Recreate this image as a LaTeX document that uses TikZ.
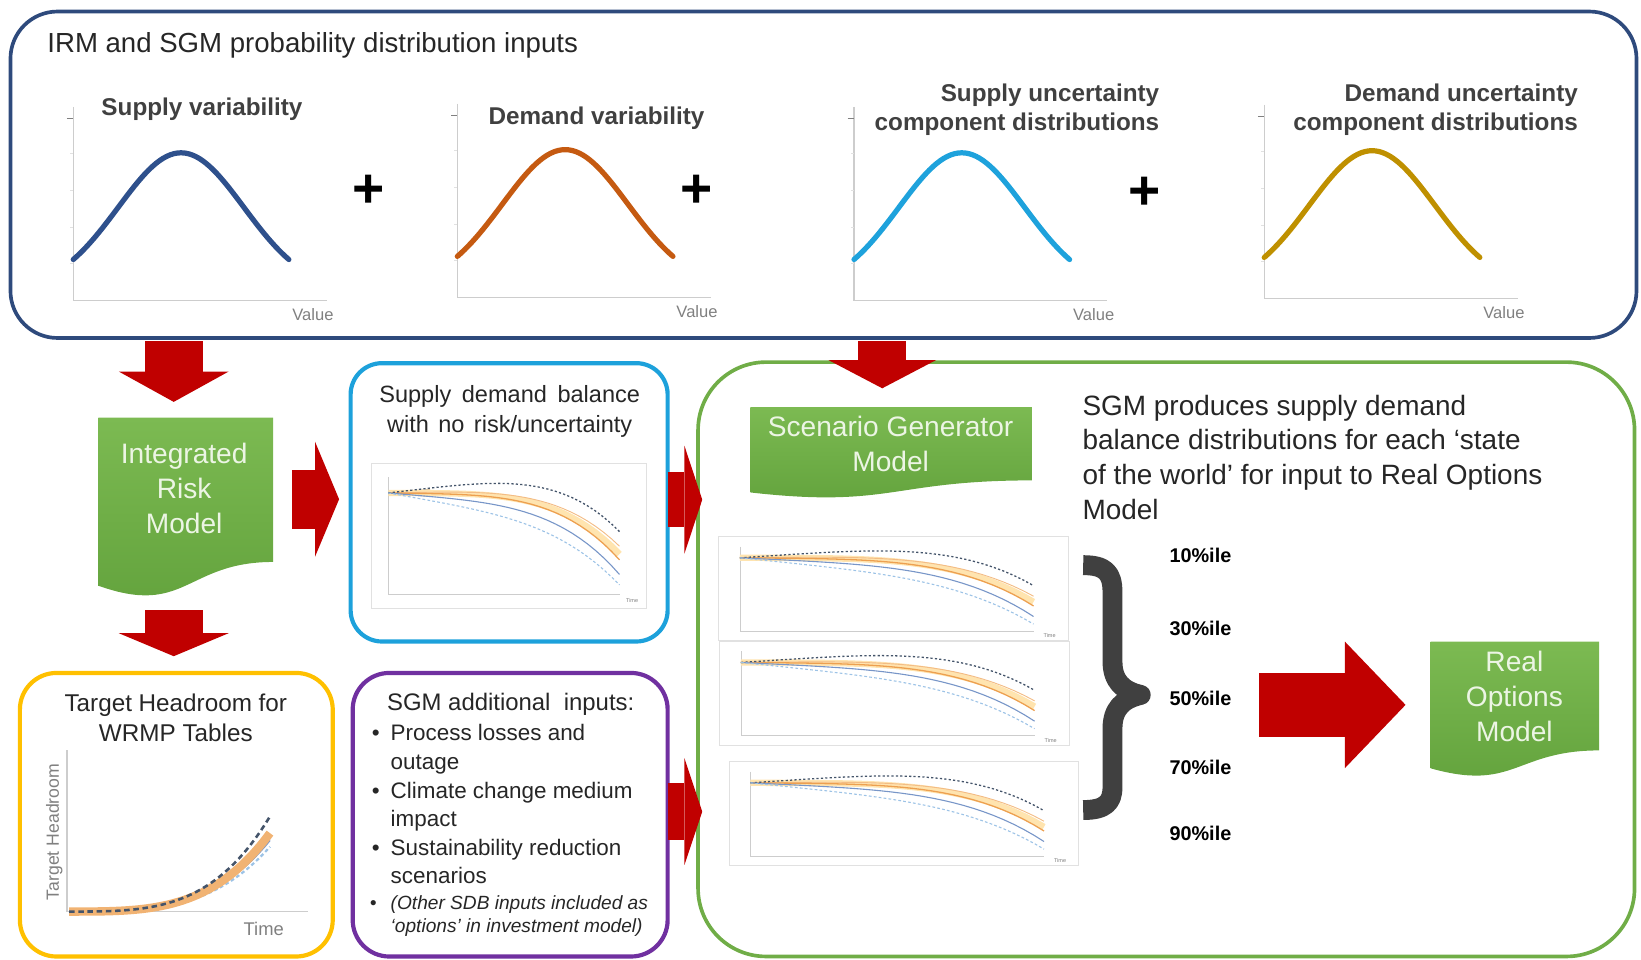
\documentclass[tikz,border=0pt]{standalone}
\usepackage{fontspec}
\setmainfont{Liberation Sans}
\usepackage{xcolor}
\usetikzlibrary{positioning, arrows.meta}

\definecolor{arrred}{RGB}{192,0,0}
\definecolor{navybox}{RGB}{46,74,124}
\definecolor{cyanbox}{RGB}{29,161,219}
\definecolor{goldbox}{RGB}{255,192,0}
\definecolor{purplebox}{RGB}{112,48,160}
\definecolor{greenbox}{RGB}{112,173,71}
\definecolor{greentop}{RGB}{124,186,82}
\definecolor{greenbot}{RGB}{98,162,60}
\definecolor{greentext}{RGB}{236,245,228}
\definecolor{titlegray}{RGB}{64,64,64}
\definecolor{axisgray}{RGB}{205,205,205}
\definecolor{supplyblue}{RGB}{46,80,140}
\definecolor{demandorange}{RGB}{197,90,17}
\definecolor{uncblue}{RGB}{30,162,220}
\definecolor{uncgold}{RGB}{191,144,0}
\definecolor{fannavy}{RGB}{68,84,106}
\definecolor{fanorange}{RGB}{237,160,80}
\definecolor{fanpale}{RGB}{255,228,175}
\definecolor{fanblue}{RGB}{120,150,200}
\definecolor{fanlight}{RGB}{157,195,230}
\definecolor{fancore}{RGB}{200,165,110}
\definecolor{bracegray}{RGB}{64,64,64}

\begin{document}
\begin{tikzpicture}[x=0.02cm, y=-0.02cm, every node/.style={inner sep=0pt, text=black!85},
  panel/.style={draw, line width=0.08cm, rounded corners=#1, anchor=north west, outer sep=0pt},
  redarrow/.style n args={3}{draw=arrred, line width=#1,
    -{Triangle[width=#2 0 0, length=#3 0 0, line width=0pt 0 0]}},
  doctext/.style={font=\fontsize{15.3}{19}\selectfont, text=greentext, align=center},
  charttitle/.style={font=\fontsize{13.2}{15.9}\selectfont\bfseries, text=titlegray},
  boxtitle/.style={font=\fontsize{13}{16.4}\selectfont, align=center},
  smalllbl/.style={font=\fontsize{9.6}{11}\selectfont, text=gray},
  pct/.style={font=\fontsize{10.8}{12}\selectfont\bfseries, text=black},
  plus/.style={font=\fontsize{30}{30}\selectfont\bfseries, text=black},
  fanline/.style={domain=0:1, samples=30},
  bell/.pic={
    \draw[axisgray, line width=0.6pt] (0,-185) -- (0,0) -- (242,0);
    \draw[gray, line width=0.5pt] (-6,-174) -- (0,-174);
    \foreach \yy in {-140,-105,-70,-35} \draw[axisgray!60, line width=0.4pt] (-3,\yy) -- (0,\yy);
    \draw[#1, line width=0.1cm, line cap=round] plot[domain=-103:103, samples=61]
      ({\x+103}, {-8.7-132.3*exp(-(\x)*(\x)/7200)});
    \node[smalllbl, font=\fontsize{9}{10}\selectfont] (-value) at (229,14) {Value};
  },
  fan/.pic={
    \draw[axisgray!60, line width=0.4pt] (-16,-28) rectangle (247,110);
    \draw[axisgray, line width=0.4pt] (0,-15) -- (0,97) -- (221,97);
    \node[font=\fontsize{3}{3}\selectfont, text=gray] (-time) at (233,103) {Time};
    \fill[fancore] (0,-1.5) -- (40,-3.5) -- (40,3.5) -- (0,1.5) -- cycle;
    \draw[fanline, fanpale, line width=0.12cm] plot ({221*\x}, {0.5*\x+58*\x*\x*\x*\x});
    \draw[fanline, fanorange!70, line width=0.5pt] plot ({221*\x}, {-4*\x+55*\x*\x*\x*\x});
    \draw[fanline, fanorange, line width=0.7pt] plot ({221*\x}, {3*\x+61*\x*\x*\x*\x});
    \draw[fanline, fannavy, line width=0.7pt, dash pattern=on 1.2pt off 1.2pt] plot ({221*\x}, {-26*\x+63*\x*\x*\x*\x});
    \draw[fanline, fanblue, line width=0.6pt] plot ({221*\x}, {18.6*\x+59.4*\x*\x*\x*\x});
    \draw[fanline, fanlight, line width=0.6pt, dash pattern=on 1.5pt off 1.2pt] plot ({221*\x}, {40*\x+48*\x*\x*\x*\x});
  },
  greendoc/.pic={
    \shade[top color=greentop, bottom color=greenbot] (0,0) -- (100,0) -- (100,80.2)
      .. controls (50,80.2) and (50,110.8) .. (0,93.4) -- cycle;
  }]
\useasboundingbox (0,0) rectangle (1568,917);

% input distributions
\node[panel=0.9cm, draw=navybox, line width=0.07cm, minimum width=31.08cm, minimum height=6.24cm] (inputs) at (10,11) {};
\node[anchor=west, font=\fontsize{15}{18}\selectfont] (inputsTitle) at (45,43) {IRM and SGM probability distribution inputs};

\pic (supply) at (70,287) {bell=supplyblue};
\pic (demand) at (437,284) {bell=demandorange};
\pic (supplyUnc) at (816,287) {bell=uncblue};
\pic (demandUnc) at (1208,285) {bell=uncgold};
\node[charttitle] (supplyTitle) at (193,104) {Supply variability};
\node[charttitle] (demandTitle) at (570,113) {Demand variability};
\node[charttitle, anchor=east, align=right] (supplyUncTitle) at (1108,105) {Supply uncertainty\\component distributions};
\node[charttitle, anchor=east, align=right] (demandUncTitle) at (1508,105) {Demand uncertainty\\component distributions};
\node[plus] (plusA) at (352,183) {+};
\node[plus] (plusB) at (666,183) {+};
\node[plus] (plusC) at (1094,185) {+};

% integrated risk model
\pic[xscale=1.67, yscale=1.72] (irmShape) at (94,399) {greendoc};
\node[doctext] (irm) at (176,466.5) {Integrated\\Risk\\Model};

% supply demand balance
\node[panel=0.6cm, draw=cyanbox, minimum width=6.06cm, minimum height=5.32cm] (sdb) at (335,347) {};
\node[boxtitle, font=\fontsize{12.8}{16.4}\selectfont] (sdbTitle) at (487,393.5) {Supply\hspace{0.45em}demand\hspace{0.45em}balance\\with\hspace{0.4em}no\hspace{0.4em}risk/uncertainty};
\pic (fanSdb) at (371,471) {fan};

% target headroom
\node[panel=0.7cm, draw=goldbox, minimum width=5.98cm, minimum height=5.42cm] (headroom) at (19,643) {};
\node[boxtitle, font=\fontsize{13.2}{16.4}\selectfont] (headTitle) at (168,685.5) {Target Headroom for\\WRMP Tables};
\draw[axisgray, line width=0.6pt] (64,717) -- (64,871) -- (294,871);
\draw[fanline, samples=40, fanlight, line width=1.2pt, dash pattern=on 2pt off 1.5pt] plot ({66+192*\x}, {871-62*(0.5*\x*\x*\x+0.5*\x*\x*\x*\x)});
\draw[fanline, samples=40, fanblue, line width=0.8pt] plot ({66+192*\x}, {871-68*(0.5*\x*\x*\x+0.5*\x*\x*\x*\x)});
\draw[fanline, samples=40, fanorange!80, line width=0.16cm] plot ({66+192*\x}, {871-75*(0.5*\x*\x*\x+0.5*\x*\x*\x*\x)});
\draw[fanline, samples=40, fannavy, line width=1.4pt, dash pattern=on 3pt off 2pt] plot ({66+192*\x}, {871-91*(0.5*\x*\x*\x+0.5*\x*\x*\x*\x)});
\node[smalllbl, rotate=90] (headY) at (52,795) {Target Headroom};
\node[smalllbl, font=\fontsize{10}{11}\selectfont] (headX) at (252,888) {Time};

% additional SGM inputs
\node[panel=0.7cm, draw=purplebox, minimum width=6.02cm, minimum height=5.42cm] (extra) at (337,643) {};
\node[boxtitle] (extraTitle) at (488,673) {SGM additional\ \ inputs:};
\node[anchor=north west, align=left, font=\fontsize{12.2}{15.55}\selectfont] (extraList) at (373,692)
  {\llap{\textbullet\hspace{0.21cm}}Process losses and\\outage\\\llap{\textbullet\hspace{0.21cm}}Climate change medium\\impact\\\llap{\textbullet\hspace{0.21cm}}Sustainability reduction\\scenarios};
\node[anchor=north west, align=left, font=\fontsize{10.4}{13}\selectfont\itshape] (extraNote) at (373,855)
  {\llap{\textbullet\hspace{0.27cm}}(Other SDB inputs included as\\‘options’ in investment model)};

% scenario generator
\node[panel=1.3cm, draw=greenbox, line width=0.07cm, minimum width=17.9cm, minimum height=11.36cm] (sgm) at (667,346) {};
\pic[xscale=2.69, yscale=0.873] (sgmShape) at (717,389) {greendoc};
\node[doctext] (sgmModel) at (851,424.5) {Scenario Generator\\Model};
\node[anchor=north west, align=left, font=\fontsize{15.2}{18.9}\selectfont] (sgmText) at (1034,377)
  {SGM produces supply demand\\balance distributions for each ‘state\\of the world’ for input to Real Options\\Model};
\pic[xscale=1.27, yscale=0.72] (fanA) at (707,533) {fan};
\pic[xscale=1.27, yscale=0.72] (fanB) at (708,633) {fan};
\pic[xscale=1.27, yscale=0.72] (fanC) at (717,748) {fan};
\draw[bracegray, line width=0.38cm, line join=round] (1035,540) .. controls (1056,540) and (1063,547) .. (1063,566)
  -- (1063,632) .. controls (1063,650) and (1072,660) .. (1090,664) .. controls (1072,668) and (1063,678) .. (1063,696)
  -- (1063,752) .. controls (1063,767) and (1056,774) .. (1035,774);
\foreach \p/\yy in {10/531, 30/600, 50/667, 70/733, 90/796}
  \node[pct] (p\p) at (1147,\yy) {\p\%ile};

% real options model
\pic[xscale=1.61, yscale=1.297] (romShape) at (1367,613) {greendoc};
\node[doctext] (rom) at (1447,665.5) {Real\\Options\\Model};

% block arrows
\coordinate (aTop) at (166,326);
\coordinate (aTip) at (166,384);
\coordinate (bTop) at (166,583);
\coordinate (bTip) at (166,627);
\coordinate (cTop) at (843,326);
\coordinate (cTip) at (843,371);
\coordinate (dTail) at (279,477);
\coordinate (dTip) at (324,477);
\coordinate (gTail) at (1203,673.5);
\coordinate (gTip) at (1343,673.5);
\draw[redarrow={1.1cm}{2.1cm}{0.58cm}] (aTop) -- (aTip);
\draw[redarrow={1.1cm}{2.1cm}{0.44cm}] (bTop) -- (bTip);
\draw[redarrow={0.92cm}{2.06cm}{0.54cm}] (cTop) -- (cTip);
\draw[redarrow={1.12cm}{2.2cm}{0.46cm}] (dTail) -- (dTip);
\draw[redarrow={1.06cm}{2.06cm}{0.34cm}] ([yshift=0.05cm]sdb.east) -- ([xshift=0.08cm, yshift=0.05cm]sgm.west |- sdb.east);
\draw[redarrow={1.1cm}{2.04cm}{0.34cm}] ([yshift=0.06cm]extra.east) -- ([xshift=0.08cm, yshift=0.06cm]sgm.west |- extra.east);
\draw[redarrow={1.22cm}{2.42cm}{1.16cm}] (gTail) -- (gTip);
\end{tikzpicture}
\end{document}
